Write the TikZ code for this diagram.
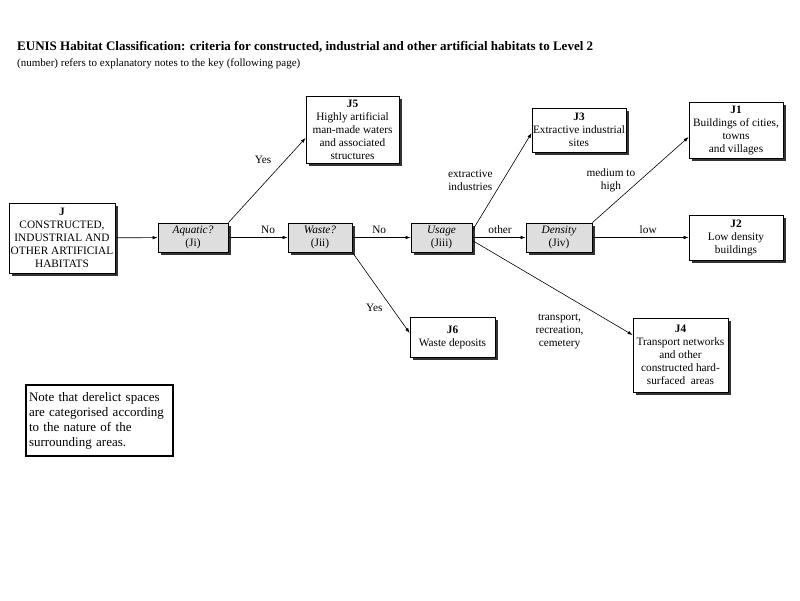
\documentclass[tikz,border=0pt]{standalone}
\usepackage{fontspec}
\setmainfont{Liberation Serif}
\usetikzlibrary{arrows.meta, positioning, shadows}

\begin{document}
\begin{tikzpicture}[
    x=1pt, y=-1pt,
    every node/.style={font=\fontsize{11.3}{13}\selectfont, inner sep=0pt},
    habitat/.style={draw, fill=white, align=center, line width=0.8pt, drop shadow={shadow xshift=2.5pt, shadow yshift=-2.5pt, fill=black!80, opacity=1}},
    question/.style={habitat, fill=black!13, minimum height=29pt},
    arrow/.style={-{Latex[length=5pt, width=3.5pt]}, line width=0.6pt},
    lbl/.style={align=center, inner sep=0pt}
]
    \path[use as bounding box, fill=white] (0,0) rectangle (800,600);

    % Heading
    \node[anchor=base west, font=\fontsize{13}{15}\selectfont\bfseries] (title) at (17,50) {EUNIS Habitat Classification: criteria for constructed, industrial and other artificial habitats to Level 2};
    \node[anchor=base west, font=\fontsize{11}{12}\selectfont] (subtitle) at (17,66) {(number) refers to explanatory notes to the key (following page)};

    % Start and questions
    \node[habitat, minimum width=106pt, minimum height=70pt] (j) at (62,238) {\textbf{J}\\CONSTRUCTED,\\INDUSTRIAL AND\\OTHER ARTIFICIAL\\HABITATS};
    \node[question, minimum width=70pt] (aquatic) at (193,237.5) {\textit{Aquatic?}\\(Ji)};
    \node[question, minimum width=64pt] (waste) at (320,237.5) {\textit{Waste?}\\(Jii)};
    \node[question, minimum width=61pt] (usage) at (441.5,237.5) {\textit{Usage}\\(Jiii)};
    \node[question, minimum width=66pt] (density) at (559,237.5) {\textit{Density}\\(Jiv)};

    % Level 2 habitats
    \node[habitat, minimum width=93pt, minimum height=67pt] (j5) at (352.5,129.5) {\textbf{J5}\\Highly artificial\\man-made waters\\and associated\\structures};
    \node[habitat, minimum width=94pt, minimum height=44pt] (j3) at (579,130) {\textbf{J3}\\Extractive industrial\\sites};
    \node[habitat, minimum width=94pt, minimum height=56pt] (j1) at (736,130) {\textbf{J1}\\Buildings of cities,\\towns\\and villages};
    \node[habitat, minimum width=94pt, minimum height=45pt] (j2) at (736,237.5) {\textbf{J2}\\Low density\\buildings};
    \node[habitat, minimum width=85pt, minimum height=40pt] (j6) at (452.5,337) {\textbf{J6}\\Waste deposits};
    \node[habitat, minimum width=95pt, minimum height=74pt] (j4) at (680.5,355) {\textbf{J4}\\Transport networks\\and other\\constructed hard-\\surfaced\ \ areas};

    % Note
    \node[draw, line width=2pt, text width=141pt, inner sep=3pt, align=left, minimum height=71pt, font=\fontsize{13}{15}\selectfont] (note) at (99.5,420.5) {Note that derelict spaces\\are categorised according\\to the nature of the\\surrounding areas.};

    % Arrows
    \draw[arrow] (j) -- (aquatic);
    \draw[arrow] (aquatic.north east) -- node[lbl, pos=0.74, left=14pt] {Yes} ([yshift=-8.5pt]j5.west);
    \draw[arrow] (aquatic) -- node[lbl, pos=0.67, above=4pt] {No} (waste);
    \draw[arrow] (waste.south east) -- node[lbl, pos=0.69, left=9pt] {Yes} ([yshift=4pt]j6.west);
    \draw[arrow] (waste) -- node[lbl, pos=0.46, above=4pt] {No} (usage);
    \draw[arrow] ([yshift=7pt]usage.east) -- node[lbl, pos=0.515, left=10pt] {extractive\\industries} ([yshift=-3pt]j3.west);
    \draw[arrow] (usage) -- node[lbl, pos=0.52, above=4pt] {other} (density);
    \draw[arrow] ([yshift=-3pt]usage.east) -- node[lbl, pos=0.544, below=22pt] {transport,\\recreation,\\cemetery} ([yshift=20pt]j4.west);
    \draw[arrow] (density.north east) -- node[lbl, pos=0.49, left=4pt] {medium to\\high} ([yshift=-7pt]j1.west);
    \draw[arrow] (density) -- node[lbl, pos=0.58, above=4pt] {low} (j2);
\end{tikzpicture}
\end{document}
